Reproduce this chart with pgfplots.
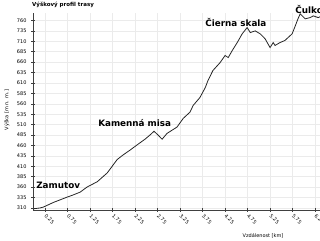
\documentclass[border=0pt]{standalone}
\usepackage{pgfplots}
\pgfplotsset{compat=1.18}
\usepackage{fontspec}
\setmainfont{DejaVu Sans}
\begin{document}
\begin{tikzpicture}[x=1pt,y=1pt]
\useasboundingbox (0,0) rectangle (320,240);
\begin{axis}[
  at={(33pt,30pt)}, anchor=south west,
  scale only axis, width=287pt, height=197pt,
  xmin=-0.02, xmax=6.36, ymin=305, ymax=778,
  axis lines=left, axis line style={-, black!75, line width=0.6pt},
  xtick={0.25,0.75,...,6.25},
  ytick={310,335,...,760},
  tick align=center, major tick length=4pt,
  tick style={black!75, line width=0.5pt},
  grid=major, grid style={black!8, line width=0.5pt},
  /pgf/number format/assume math mode=true,
  /pgf/number format/fixed, /pgf/number format/fixed zerofill,
  xticklabel style={/pgf/number format/precision=2, font=\fontsize{5}{5}\selectfont, rotate=-45, anchor=west, xshift=-1pt, yshift=-2pt},
  yticklabel style={/pgf/number format/precision=0, /pgf/number format/fixed zerofill=false, font=\fontsize{5}{5}\selectfont, xshift=-1pt},
  clip=false,
]
\addplot[black!85, line width=0.8pt] coordinates {
(0.00,308) (0.14,310) (0.21,312) (0.43,323) (0.74,336) (0.87,341) (1.03,348)
(1.18,360) (1.41,373) (1.63,394) (1.85,426) (1.98,437) (2.14,449) (2.29,461)
(2.47,475) (2.58,485) (2.67,494) (2.74,487) (2.85,475) (2.96,489) (3.18,504)
(3.32,525) (3.47,540) (3.54,556) (3.69,575) (3.81,599) (3.87,616) (3.98,640)
(4.14,659) (4.25,676) (4.32,671) (4.41,688) (4.52,707) (4.63,728) (4.74,743)
(4.81,731) (4.92,735) (5.03,728) (5.14,716) (5.25,695) (5.32,707) (5.36,700)
(5.47,707) (5.58,712) (5.65,719) (5.74,728) (5.81,747) (5.87,764) (5.92,776)
(6.03,764) (6.14,767) (6.21,771) (6.32,767) (6.36,769)
};
\node[font=\bfseries\fontsize{8.8}{9}\selectfont] at (axis cs:0.54,365) {Zamutov};
\node[font=\bfseries\fontsize{8.8}{9}\selectfont] at (axis cs:2.24,513) {Kamenná misa};
\node[font=\bfseries\fontsize{8.8}{9}\selectfont] at (axis cs:4.49,755) {Čierna skala};
\node[font=\bfseries\fontsize{8.8}{9}\selectfont, anchor=west, inner xsep=0pt] at (axis cs:5.81,786) {Čulko};
\end{axis}
\node[font=\bfseries\fontsize{5.5}{6}\selectfont, anchor=west, inner sep=0pt] at (32,235) {Výškový profil trasy};
\node[font=\fontsize{5}{5}\selectfont, rotate=90] at (7,130) {Výška [m n. m.]};
\node[font=\fontsize{5}{5}\selectfont] at (263,4) {Vzdálenost [km]};
\end{tikzpicture}
\end{document}
